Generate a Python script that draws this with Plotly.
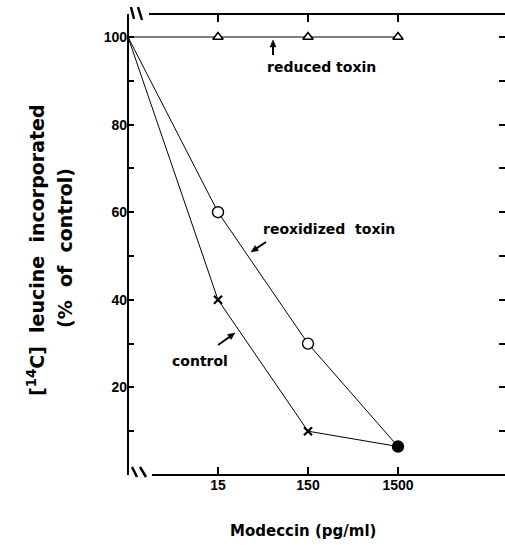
import math
import plotly.graph_objects as go

# ---- data ----
dose_labels = ["0", "15", "150", "1500"]          # Modeccin (pg/ml)
dose_pos = [0, 1, 2, 3]                             # position on the broken log axis
control = [100, 40, 10, 6.5]
reoxidized = [100, 60, 30, 6.5]
reduced = [100, 100, 100, 100]
y_major = [20, 40, 60, 80, 100]
y_minor = [10, 30, 50, 70, 90]

# plot geometry helpers (pixels -> paper)
L, R, T, B = 128, 505, 14, 475
def pxx(x):
    return (x - L) / (R - L)
def pxy(y):
    return (B - y) / (B - T)

FONT = "DejaVu Sans"
fig = go.Figure()

# lines
fig.add_trace(go.Scatter(x=dose_pos, y=reduced, mode="lines",
                         line=dict(color="black", width=1), showlegend=False))
fig.add_trace(go.Scatter(x=dose_pos, y=control, mode="lines",
                         line=dict(color="black", width=1), showlegend=False))
fig.add_trace(go.Scatter(x=dose_pos, y=reoxidized, mode="lines",
                         line=dict(color="black", width=1), showlegend=False))
# markers (treated doses only)
fig.add_trace(go.Scatter(x=dose_pos[1:], y=reduced[1:], mode="markers",
                         marker=dict(symbol="triangle-up", size=9, color="white",
                                     line=dict(color="black", width=1.6)),
                         showlegend=False))
fig.add_trace(go.Scatter(x=dose_pos[1:], y=control[1:], mode="markers",
                         marker=dict(symbol="x-thin", size=8,
                                     line=dict(color="black", width=2.2)),
                         showlegend=False))
fig.add_trace(go.Scatter(x=dose_pos[1:], y=reoxidized[1:], mode="markers",
                         marker=dict(symbol="circle", size=11,
                                     color=["white", "white", "black"],
                                     line=dict(color="black", width=1.4)),
                         showlegend=False))

xr = [0, (R - L) / 90.0]
yr = [0, (B - T) / 4.38]

fig.update_layout(
    width=505, height=545,
    margin=dict(l=L, r=505 - R, t=T, b=545 - B),
    paper_bgcolor="white", plot_bgcolor="white",
    font=dict(family=FONT, color="black"),
    xaxis=dict(range=xr, tickvals=dose_pos[1:], ticktext=dose_labels[1:],
               ticks="inside", ticklen=8, tickwidth=2, tickcolor="black",
               mirror="ticks", showline=False, showgrid=False, zeroline=False,
               tickfont=dict(family="Liberation Sans", size=14, weight="bold")),
    yaxis=dict(range=yr, tickvals=y_major,
               ticks="inside", ticklen=6, tickwidth=2, tickcolor="black",
               minor=dict(tickvals=y_minor, ticks="inside", ticklen=6, tickwidth=2,
                          tickcolor="black", showgrid=False),
               mirror="ticks", showline=False,
               showgrid=False, zeroline=False,
               tickfont=dict(family="Liberation Sans Narrow, Liberation Sans", size=14, weight="bold")),
)


def arrow(xt, yt, xh, yh, head_len=7.0, head_w=6.0):
    """Arrow from tail (xt,yt) to head (xh,yh), given in pixels."""
    dx, dy = xh - xt, yh - yt
    d = math.hypot(dx, dy)
    ux, uy = dx / d, dy / d
    bx, by = xh - ux * head_len, yh - uy * head_len
    nx, ny = -uy, ux
    p1 = (bx + nx * head_w / 2, by + ny * head_w / 2)
    p2 = (bx - nx * head_w / 2, by - ny * head_w / 2)
    path = "M {} {} L {} {} L {} {} Z".format(pxx(xh), pxy(yh), pxx(p1[0]), pxy(p1[1]),
                                             pxx(p2[0]), pxy(p2[1]))
    return [
        dict(type="line", xref="paper", yref="paper", x0=pxx(xt), y0=pxy(yt),
             x1=pxx(bx + ux), y1=pxy(by + uy), line=dict(color="black", width=2)),
        dict(type="path", xref="paper", yref="paper", path=path,
             fillcolor="black", line=dict(color="black", width=0.5)),
    ]


# axis lines (left full, top and bottom broken) and break marks
shapes = [
    dict(type="line", xref="paper", yref="paper", x0=0, x1=0, y0=0, y1=1,
         line=dict(color="black", width=2)),
    dict(type="line", xref="paper", yref="paper", x0=pxx(152), x1=1, y0=0, y1=0,
         line=dict(color="black", width=2)),
    dict(type="line", xref="paper", yref="paper", x0=pxx(149), x1=1, y0=1, y1=1,
         line=dict(color="black", width=2)),
    dict(type="line", xref="paper", yref="paper", x0=pxx(131), x1=pxx(134), y0=pxy(7), y1=pxy(19),
         line=dict(color="black", width=2.5)),
    dict(type="line", xref="paper", yref="paper", x0=pxx(138), x1=pxx(142), y0=pxy(7), y1=pxy(20),
         line=dict(color="black", width=2.5)),
    dict(type="line", xref="paper", yref="paper", x0=pxx(132), x1=pxx(137), y0=pxy(467), y1=pxy(477),
         line=dict(color="black", width=2.5)),
    dict(type="line", xref="paper", yref="paper", x0=pxx(140), x1=pxx(146), y0=pxy(467), y1=pxy(477),
         line=dict(color="black", width=2.5)),
]
shapes += arrow(273, 55, 273, 40)
shapes += arrow(266, 242, 251, 252)
shapes += arrow(218, 345, 235, 333)
fig.update_layout(shapes=shapes)

bold = dict(family=FONT, size=14, color="black", weight="bold")
ann = [
    # series labels
    dict(text="reduced toxin", x=pxx(321), y=pxy(67), font=bold),
    dict(text="reoxidized  toxin", x=pxx(329), y=pxy(229), font=bold),
    dict(text="control", x=pxx(200), y=pxy(361), font=bold),
    # axis titles
    dict(text="Modeccin (pg/ml)", x=pxx(303), y=pxy(531),
         font=dict(family=FONT, size=15, color="black", weight="bold")),
    dict(text="[<sup>14</sup>C]  leucine  incorporated", x=pxx(36), y=pxy(250), textangle=-90,
         font=dict(family=FONT, size=19, color="black", weight="bold")),
    dict(text="(%  of  control)", x=pxx(65), y=pxy(248), textangle=-90,
         font=dict(family=FONT, size=19, color="black", weight="bold")),
]
for a in ann:
    a.setdefault("showarrow", False)
    a.update(xref="paper", yref="paper", xanchor="center", yanchor="middle")
fig.update_layout(annotations=ann)

fig.write_html("out.html")
